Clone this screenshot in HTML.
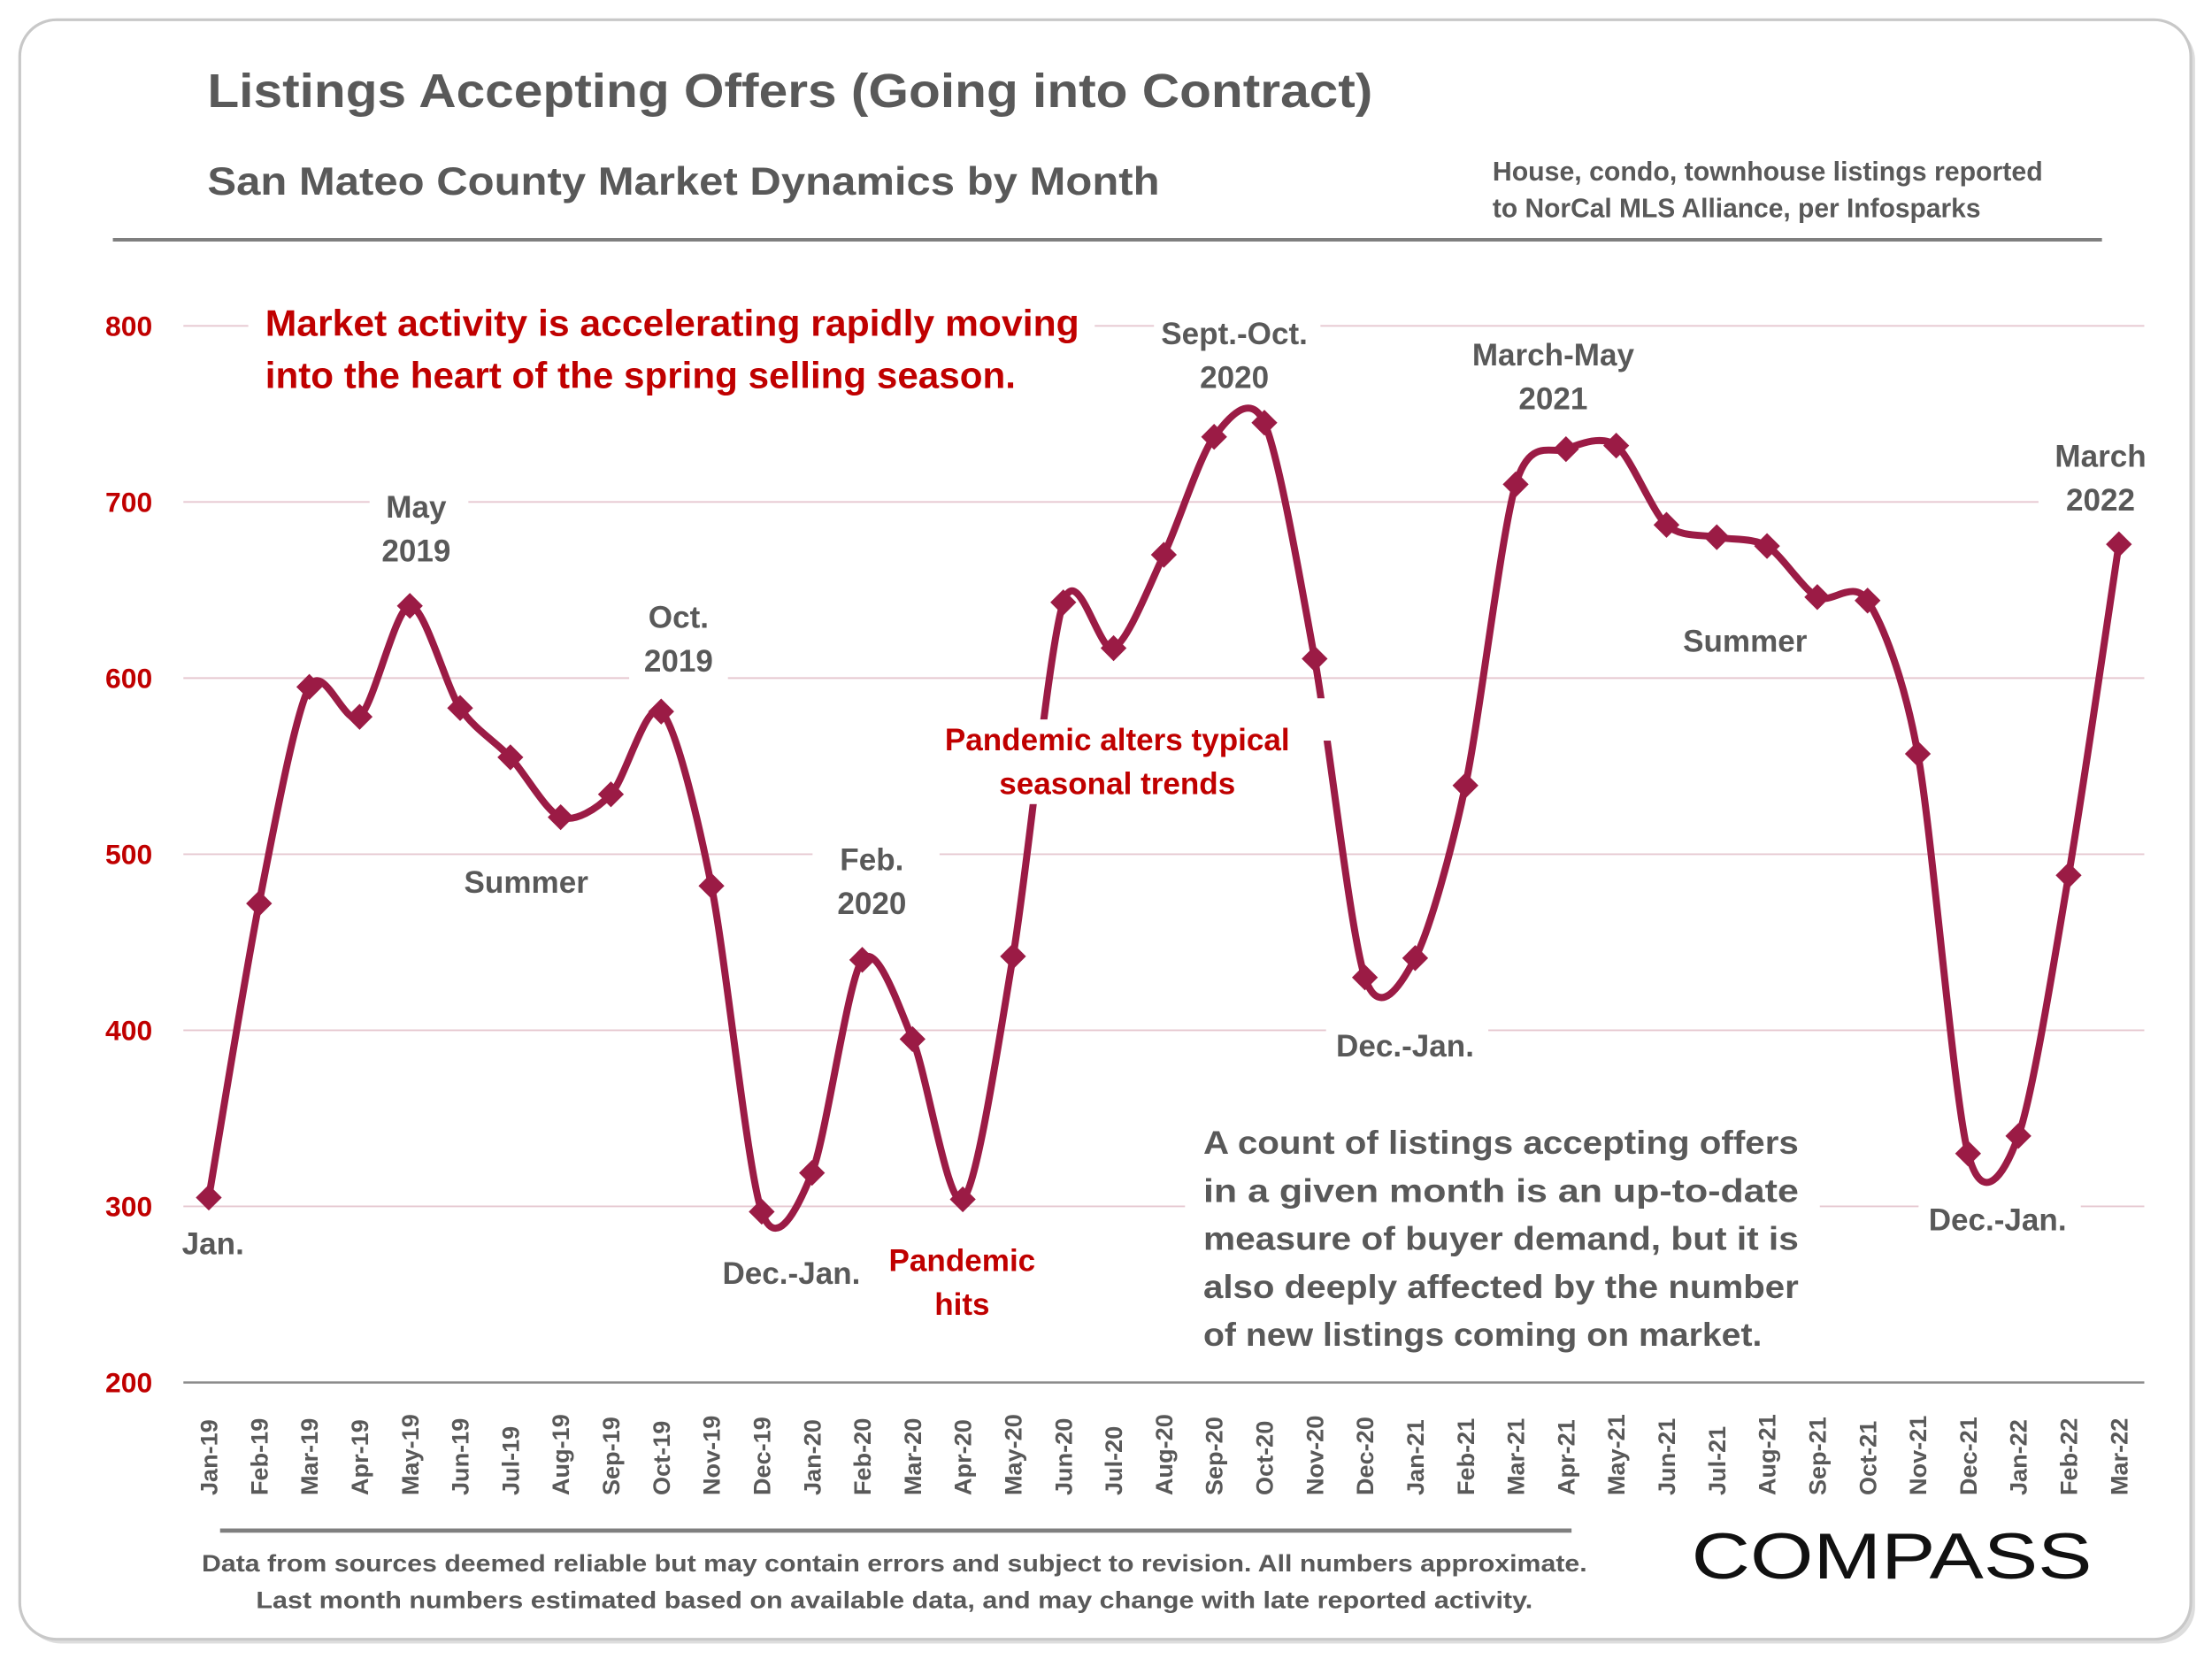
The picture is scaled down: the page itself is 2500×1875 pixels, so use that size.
<!DOCTYPE html>
<html><head><meta charset="utf-8"><style>
html,body{margin:0;padding:0;background:#fff;}
svg{display:block;}
text{font-family:"Liberation Sans",sans-serif;font-weight:bold;}
</style></head><body>
<svg id="s" width="2500" height="1875" viewBox="0 0 1568 1176" xmlns="http://www.w3.org/2000/svg">
<rect x="17" y="17" width="1539" height="1148" rx="26" fill="#ddd"/>
<rect x="14" y="14" width="1539" height="1148" rx="26" fill="#fff" stroke="#c8c8c8" stroke-width="2"/>
<text x="147" y="76" font-size="34" fill="#595959" textLength="826" lengthAdjust="spacingAndGlyphs">Listings Accepting Offers (Going into Contract)</text>
<text x="147" y="138" font-size="28" fill="#595959" textLength="675" lengthAdjust="spacingAndGlyphs">San Mateo County Market Dynamics by Month</text>
<text x="1058" y="128" font-size="19" fill="#595959" textLength="390" lengthAdjust="spacingAndGlyphs">House, condo, townhouse listings reported</text>
<text x="1058" y="154" font-size="19" fill="#595959" textLength="346" lengthAdjust="spacingAndGlyphs">to NorCal MLS Alliance, per Infosparks</text>
<line x1="80" y1="170" x2="1490" y2="170" stroke="#7f7f7f" stroke-width="2.5"/>
<g id="grid" stroke="#e6c8d0" stroke-width="1.2"></g>
<line x1="130" y1="980" x2="1520" y2="980" stroke="#8c8c8c" stroke-width="1.5"/>
<g id="ylab" font-size="20" fill="#c00000" text-anchor="end"></g>
<g id="xlab" font-size="17" fill="#595959"></g>
<g id="boxes" fill="#fff"></g>
<path id="line" fill="none" stroke="#9b1b45" stroke-width="5"/>
<g id="marks" fill="#9b1b45"></g>
<g fill="#fff"><rect x="700" y="510" width="228" height="60"/><rect x="905" y="495" width="40" height="30"/></g>
<g font-size="26" fill="#c00000">
<text x="188" y="238" textLength="577" lengthAdjust="spacingAndGlyphs">Market activity is accelerating rapidly moving</text>
<text x="188" y="275" textLength="532" lengthAdjust="spacingAndGlyphs">into the heart of the spring selling season.</text>
</g>
<g font-size="22" fill="#595959" text-anchor="middle">
<text x="295" y="367">May</text><text x="295" y="398">2019</text>
<text x="481" y="445">Oct.</text><text x="481" y="476">2019</text>
<text x="373" y="633">Summer</text>
<text x="151" y="889">Jan.</text>
<text x="618" y="617">Feb.</text><text x="618" y="648">2020</text>
<text x="561" y="910">Dec.-Jan.</text>
<text x="875" y="244">Sept.-Oct.</text><text x="875" y="275">2020</text>
<text x="1101" y="259">March-May</text><text x="1101" y="290">2021</text>
<text x="996" y="749">Dec.-Jan.</text>
<text x="1237" y="462">Summer</text>
<text x="1489" y="331">March</text><text x="1489" y="362">2022</text>
<text x="1416" y="872">Dec.-Jan.</text>
</g>
<g font-size="22" fill="#c00000" text-anchor="middle">
<text x="682" y="901">Pandemic</text><text x="682" y="932">hits</text>
<text x="792" y="532">Pandemic alters typical</text><text x="792" y="563">seasonal trends</text>
</g>
<g font-size="23" fill="#595959">
<text x="853" y="818" textLength="422" lengthAdjust="spacingAndGlyphs">A count of listings accepting offers</text>
<text x="853" y="852" textLength="422" lengthAdjust="spacingAndGlyphs">in a given month is an up-to-date</text>
<text x="853" y="886" textLength="422" lengthAdjust="spacingAndGlyphs">measure of buyer demand, but it is</text>
<text x="853" y="920" textLength="422" lengthAdjust="spacingAndGlyphs">also deeply affected by the number</text>
<text x="853" y="954" textLength="396" lengthAdjust="spacingAndGlyphs">of new listings coming on market.</text>
</g>
<line x1="156" y1="1085" x2="1114" y2="1085" stroke="#7f7f7f" stroke-width="3"/>
<g font-size="17" fill="#595959" text-anchor="middle">
<text x="634" y="1114" textLength="982" lengthAdjust="spacingAndGlyphs">Data from sources deemed reliable but may contain errors and subject to revision. All numbers approximate.</text>
<text x="634" y="1140" textLength="905" lengthAdjust="spacingAndGlyphs">Last month numbers estimated based on available data, and may change with late reported activity.</text>
</g>
<text x="1341" y="1119" font-size="46" fill="#111" text-anchor="middle" textLength="284" lengthAdjust="spacingAndGlyphs" style="font-weight:normal">COMPASS</text>
</svg>
<script>
var v=[305,472,595,578,641,583,555,521,534,581,482,297,319,440,395,304,442,643,617,670,737,745,611,430,441,539,710,730,732,687,680,675,646,644,557,330,340,488,676];
var m=["Jan","Feb","Mar","Apr","May","Jun","Jul","Aug","Sep","Oct","Nov","Dec"];
var NS="http://www.w3.org/2000/svg";
function X(i){return 148+i*(1502-148)/38;}
function Y(val){return 980-(val-200)*749/600;}
function el(p,t,a,txt){var e=document.createElementNS(NS,t);for(var k in a)e.setAttribute(k,a[k]);if(txt!==undefined)e.textContent=txt;document.getElementById(p).appendChild(e);return e;}
for(var g=300;g<=800;g+=100){el("grid","line",{x1:130,x2:1520,y1:Y(g),y2:Y(g)});}
for(var g=200;g<=800;g+=100){el("ylab","text",{x:108,y:Y(g)+7},g);}
for(var i=0;i<39;i++){var x=X(i)+6;var lab=m[i%12]+"-"+(19+Math.floor(i/12));
el("xlab","text",{x:0,y:0,transform:"translate("+x+",1060) rotate(-90)"},lab);}
var bx=[[262,343,70,65],[446,420,70,65],[320,608,108,30],[576,592,90,65],[500,885,120,30],[818,218,118,65],[1030,235,144,65],[940,724,115,30],[1182,438,110,30],[1445,306,90,65],[1360,847,115,30],[622,877,120,65],[840,795,450,175],[176,210,600,78]];
bx.forEach(function(b){el("boxes","rect",{x:b[0],y:b[1],width:b[2],height:b[3]});});
var P=v.map(function(val,i){return [X(i),Y(val)];});
var d="M"+P[0][0]+","+P[0][1];
for(var i=0;i<P.length-1;i++){var p0=P[Math.max(0,i-1)],p1=P[i],p2=P[i+1],p3=P[Math.min(P.length-1,i+2)];var t=7;
d+=" C"+(p1[0]+(p2[0]-p0[0])/t)+","+(p1[1]+(p2[1]-p0[1])/t)+" "+(p2[0]-(p3[0]-p1[0])/t)+","+(p2[1]-(p3[1]-p1[1])/t)+" "+p2[0]+","+p2[1];}
document.getElementById("line").setAttribute("d",d);
P.forEach(function(p){el("marks","rect",{x:p[0]-6.5,y:p[1]-6.5,width:13,height:13,transform:"rotate(45 "+p[0]+" "+p[1]+")"});});
</script>
</body></html>
